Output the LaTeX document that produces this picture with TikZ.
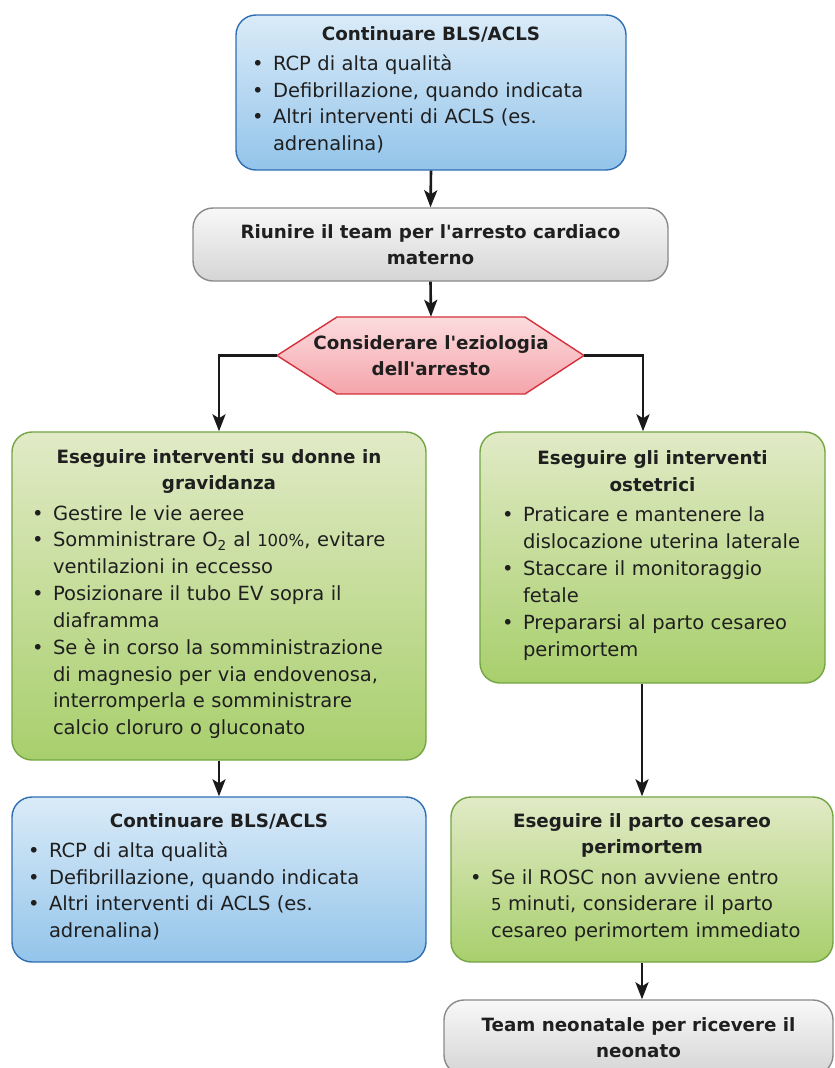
\documentclass[tikz,border=0pt]{standalone}
\usepackage{fontspec}
\setmainfont{DejaVu Sans}
\usepackage{xcolor}
\usetikzlibrary{positioning}
\usetikzlibrary{arrows.meta,calc}

\definecolor{txtcol}{HTML}{1F1F1F}
\definecolor{arrcol}{HTML}{1A1A1A}
\definecolor{bluetop}{HTML}{DAEBF8}
\definecolor{bluebot}{HTML}{93C4EA}
\definecolor{blueline}{HTML}{2F6EB3}
\definecolor{graytop}{HTML}{F8F8F8}
\definecolor{graybot}{HTML}{D5D5D5}
\definecolor{grayline}{HTML}{8A8A8A}
\definecolor{redtop}{HTML}{FCDCDE}
\definecolor{redbot}{HTML}{F4A4AB}
\definecolor{redline}{HTML}{D5303B}
\definecolor{greentop}{HTML}{E1EAC6}
\definecolor{greenbot}{HTML}{A8CF6C}
\definecolor{greenline}{HTML}{73A544}

\newcommand{\bitem}[1]{\par\noindent\makebox[21pt][l]{\textbullet}%
  \begin{tabular}[t]{@{}l@{}}#1\end{tabular}\par}
\newcommand{\btitle}[1]{{\centering\fontsize{18.3}{26.5}\selectfont\bfseries #1\par}\vspace{4pt}}
\newcommand{\onum}[1]{{\fontsize{16.5}{26.5}\selectfont #1}}
\newcommand{\apos}{\textquotesingle}

\begin{document}
\begin{tikzpicture}[x=1pt,y=-1pt,
  box/.style={draw, rounded corners=20pt, line width=1.4pt, inner xsep=0pt, inner ysep=0pt,
    font=\fontsize{19.5}{26.5}\selectfont, text=txtcol},
  bluebox/.style={box, draw=blueline, top color=bluetop, bottom color=bluebot, align=left},
  greenbox/.style={box, draw=greenline, top color=greentop, bottom color=greenbot, align=left},
  graybox/.style={box, draw=grayline, top color=graytop, bottom color=graybot, align=center,
    font=\fontsize{18.3}{26.5}\selectfont\bfseries},
  arr/.style={draw=arrcol, line width=2.6pt, -{Stealth[length=17pt,width=13pt,inset=4pt]}}]

 \useasboundingbox (0,0) rectangle (835,1068);
 \clip (0,0) rectangle (835,1068);

 % first column of boxes
 \node[bluebox, minimum width=390pt, minimum height=155pt, text width=358pt] (bls) at (431,92.5) {%
   \btitle{Continuare BLS/ACLS}
   \bitem{RCP di alta qualità}
   \bitem{Defibrillazione, quando indicata}
   \bitem{Altri interventi di ACLS (es.\\adrenalina)}};

 \node[graybox, minimum width=475pt, minimum height=73pt] (team) at (430.5,244.5)
   {Riunire il team per l\apos arresto cardiaco\\materno};

 % hexagon for the etiology
 \coordinate (ezW) at (277,355.5);
 \coordinate (ezE) at (584,355.5);
 \path[draw=redline, line width=1.4pt, top color=redtop, bottom color=redbot]
   (ezW) -- (337,317) -- (525,317) -- (ezE) -- (525,394) -- (337,394) -- cycle;
 \node[align=center, minimum height=77pt, inner sep=0pt, text=txtcol,
   font=\fontsize{18.3}{26.5}\selectfont\bfseries] (eziol) at (431,355.5)
   {Considerare l\apos eziologia\\dell\apos arresto};

 \node[greenbox, minimum width=414pt, minimum height=328pt, text width=374pt] (gravid) at (219,596) {%
   \btitle{Eseguire interventi su donne in\\gravidanza}
   \bitem{Gestire le vie aeree}
   \bitem{Somministrare O\textsubscript{2} al \onum{100\%}, evitare\\ventilazioni in eccesso}
   \bitem{Posizionare il tubo EV sopra il\\diaframma}
   \bitem{Se è in corso la somministrazione\\di magnesio per via endovenosa,\\interromperla e somministrare\\calcio cloruro o gluconato}};

 \node[greenbox, minimum width=345pt, minimum height=251pt, text width=301pt] (ostet) at (652.5,557.5) {%
   \btitle{Eseguire gli interventi\\ostetrici}
   \bitem{Praticare e mantenere la\\dislocazione uterina laterale}
   \bitem{Staccare il monitoraggio\\fetale}
   \bitem{Prepararsi al parto cesareo\\perimortem}};

 \node[bluebox, minimum width=414pt, minimum height=165pt, text width=382pt] (blsdue) at (219,879.5) {%
   \btitle{Continuare BLS/ACLS}
   \bitem{RCP di alta qualità}
   \bitem{Defibrillazione, quando indicata}
   \bitem{Altri interventi di ACLS (es.\\adrenalina)}};

 \node[greenbox, minimum width=382pt, minimum height=165pt, text width=344pt] (cesareo) at (642,879.5) {%
   \btitle{Eseguire il parto cesareo\\perimortem}
   \bitem{Se il ROSC non avviene entro\\\onum{5} minuti, considerare il parto\\cesareo perimortem immediato}};

 \node[graybox, minimum width=389pt, minimum height=75pt] (neonat) at (638.5,1037.5)
   {Team neonatale per ricevere il\\neonato};

 % connectors
 \draw[arr] (bls.south) -- (team.north);
 \draw[arr] (team.south) -- (eziol.north);
 \draw[arr] (ezW) -| (gravid.north);
 \draw[arr] (ezE) -| ([xshift=-9.5pt]ostet.north);
 \draw[arr] (gravid.south) -- (blsdue.north);
 \draw[arr] (ostet.south -| cesareo.north) -- (cesareo.north);
 \draw[arr] (cesareo.south) -- (cesareo.south |- neonat.north);

\end{tikzpicture}
\end{document}
